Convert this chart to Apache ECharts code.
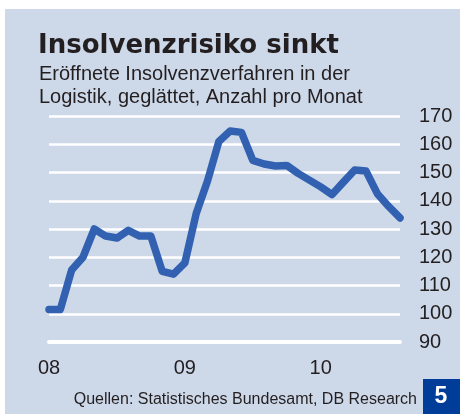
<!DOCTYPE html>
<html>
<head>
<meta charset="utf-8">
<script src="https://cdn.jsdelivr.net/npm/echarts@6/dist/echarts.min.js"></script>
<style>
  html, body { margin: 0; padding: 0; background: #fff; }
  #chart { width: 460px; height: 414px; }
</style>
</head>
<body>
<div id="chart"></div>
<script>
// Monate Jan 2008 bis Aug 2010
const months = [
  "2008-01", "2008-02", "2008-03", "2008-04", "2008-05", "2008-06", "2008-07", "2008-08",
  "2008-09", "2008-10", "2008-11", "2008-12", "2009-01", "2009-02", "2009-03", "2009-04",
  "2009-05", "2009-06", "2009-07", "2009-08", "2009-09", "2009-10", "2009-11", "2009-12",
  "2010-01", "2010-02", "2010-03", "2010-04", "2010-05", "2010-06", "2010-07", "2010-08"
];
const insolvenzen = [
  101.5, 101.5, 115.5, 120, 130, 127.5, 126.8, 129.5,
  127.5, 127.5, 115, 114, 118, 135.5, 147, 161,
  164.7, 164.2, 154.3, 153, 152.3, 152.5, 149.7, 147.3,
  144.9, 142.2, 146.6, 150.9, 150.5, 142.5, 138, 133.9
];
const yTicks = { min: 90, max: 170, step: 10 };
const yearLabels = { "2008-01": "08", "2009-01": "09", "2010-01": "10" };

const chart = echarts.init(document.getElementById("chart"));
const option = {
  animation: false,
  backgroundColor: "#fff",
  graphic: [
    {
      type: "rect",
      z: -10,
      shape: { x: 5, y: 9, width: 455, height: 405 },
      style: { fill: "#cdd8e9" }
    },
    {
      type: "rect",
      shape: { x: 423, y: 379, width: 37, height: 35 },
      style: { fill: "#003d99" }
    },
    {
      type: "text",
      x: 441,
      y: 397,
      style: {
        text: "5",
        fill: "#fff",
        font: "bold 23px 'Liberation Sans', Arial",
        align: "center",
        verticalAlign: "middle"
      }
    },
    {
      type: "text",
      x: 417,
      y: 400,
      style: {
        text: "Quellen: Statistisches Bundesamt, DB Research",
        fill: "#231f20",
        font: "16px 'Liberation Sans', Arial",
        align: "right",
        verticalAlign: "middle"
      }
    }
  ],
  title: [
    {
      text: "Insolvenzrisiko sinkt",
      left: 33,
      top: 28,
      textStyle: {
        fontFamily: "'DejaVu Sans', sans-serif",
        fontWeight: "bold",
        fontSize: 26,
        color: "#231f20"
      }
    },
    {
      text: "Eröffnete Insolvenzverfahren in der\nLogistik, geglättet, Anzahl pro Monat",
      left: 34,
      top: 58,
      textStyle: {
        fontFamily: "'Liberation Sans', Arial",
        fontWeight: "normal",
        fontSize: 20,
        lineHeight: 23,
        color: "#231f20"
      }
    }
  ],
  grid: {
    left: 49,
    right: 60,
    top: 116,
    bottom: 72,
    containLabel: false
  },
  xAxis: {
    type: "category",
    boundaryGap: false,
    data: months,
    axisLine: { show: true, lineStyle: { color: "#fff", width: 4 } },
    axisTick: { show: false },
    axisLabel: {
      interval: 0,
      color: "#231f20",
      fontFamily: "'Liberation Sans', Arial",
      fontSize: 20,
      margin: 16,
      formatter: function (v) { return yearLabels[v] || ""; }
    },
    splitLine: { show: false }
  },
  yAxis: {
    type: "value",
    position: "right",
    min: yTicks.min,
    max: yTicks.max,
    interval: yTicks.step,
    axisLine: { show: false },
    axisTick: { show: false },
    axisLabel: {
      color: "#231f20",
      fontFamily: "'Liberation Sans', Arial",
      fontSize: 20,
      margin: 19,
      align: "left",
      showMinLabel: true
    },
    splitLine: { lineStyle: { color: "#fff", width: 2.5 } }
  },
  series: [
    {
      name: "Insolvenzen",
      type: "line",
      data: insolvenzen,
      symbol: "none",
      lineStyle: { color: "#3161b0", width: 7.5, join: "round", cap: "round" },
      z: 5
    }
  ]
};
chart.setOption(option);
</script>
</body>
</html>
